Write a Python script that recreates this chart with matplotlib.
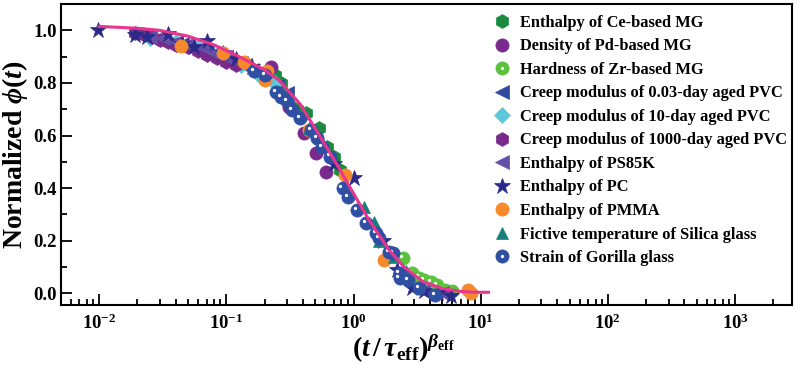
import numpy as np
import matplotlib
matplotlib.use("Agg")
from matplotlib import pyplot as plt
from matplotlib.transforms import ScaledTranslation

plt.rcParams['font.family'] = ['Liberation Serif', 'DejaVu Serif']
plt.rcParams['font.weight'] = 'bold'
plt.rcParams['axes.labelweight'] = 'bold'
plt.rcParams['mathtext.fontset'] = 'custom'
plt.rcParams['mathtext.rm'] = 'Liberation Serif:bold'
plt.rcParams['mathtext.it'] = 'Liberation Serif:italic:bold'
plt.rcParams['mathtext.bf'] = 'Liberation Serif:bold'

# master curve
fit_x = [0.01, 0.02, 0.03, 0.05, 0.08, 0.126, 0.2, 0.26, 0.38, 0.51, 0.7, 1.0,
         1.3, 1.9, 2.5, 3.5, 5.0, 7.0, 9.0, 11.5]
fit_y = [1.015, 1.008, 1.0, 0.978, 0.945, 0.90, 0.85, 0.81, 0.72, 0.62, 0.51, 0.38,
         0.285, 0.165, 0.10, 0.045, 0.018, 0.007, 0.004, 0.004]

ce_x = [0.24, 0.27, 0.31, 0.36, 0.42, 0.54, 0.62, 0.70, 0.78]
ce_y = [0.83, 0.80, 0.715, 0.70, 0.685, 0.63, 0.555, 0.52, 0.47]

pd_x = [0.225, 0.31, 0.41, 0.51, 0.61]
pd_y = [0.86, 0.71, 0.61, 0.535, 0.462]

zr_x = [2.44, 2.9, 3.3, 3.6, 4.1, 4.5, 5.2, 6.0]
zr_y = [0.133, 0.076, 0.06, 0.05, 0.044, 0.031, 0.013, 0.01]

pvc003_x = [0.022, 0.03, 0.045, 0.07, 0.10, 0.14, 0.19, 0.25, 0.30]
pvc003_y = [0.98, 0.97, 0.95, 0.92, 0.90, 0.87, 0.83, 0.79, 0.76]

pvc10_x = [0.025, 0.04, 0.06, 0.09, 0.13, 0.18, 0.24]
pvc10_y = [0.97, 0.955, 0.935, 0.905, 0.87, 0.83, 0.80]

pvc1000_x = [0.019, 0.022, 0.026, 0.03, 0.035, 0.04, 0.05, 0.06, 0.07, 0.085, 0.10, 0.12]
pvc1000_y = [0.99, 0.985, 0.975, 0.965, 0.955, 0.945, 0.935, 0.92, 0.905, 0.895, 0.88, 0.87]

ps_x = [0.025, 0.032, 0.04, 0.05, 0.065, 0.08, 0.10, 0.13, 0.16, 3.5, 5.0]
ps_y = [0.975, 0.97, 0.955, 0.95, 0.935, 0.915, 0.90, 0.875, 0.85, 0.01, 0.0]

pc_x = [0.0098, 0.019, 0.024, 0.0345, 0.045, 0.056, 0.071, 0.095, 0.12, 0.16,
        0.70, 1.0, 1.7, 2.2, 2.9, 3.6, 4.6, 5.8]
pc_y = [1.0, 0.981, 0.975, 0.987, 0.95, 0.937, 0.96, 0.915, 0.89, 0.86,
        0.49, 0.44, 0.20, 0.09, 0.02, 0.01, 0.0, -0.01]

pmma_x = [0.044, 0.095, 0.138, 0.20, 0.21, 0.45, 0.85, 1.75, 7.9, 8.4]
pmma_y = [0.94, 0.912, 0.88, 0.81, 0.845, 0.62, 0.45, 0.125, 0.013, 0.003]

si_x = [0.28, 0.45, 0.55, 1.2, 1.45, 1.6, 2.1, 2.6]
si_y = [0.77, 0.63, 0.59, 0.33, 0.27, 0.20, 0.14, 0.085]

gor_x = [0.166, 0.20, 0.246, 0.27, 0.30, 0.33, 0.38, 0.46, 0.52, 0.57, 0.65, 0.82,
         0.90, 1.07, 1.26, 1.5, 1.6, 1.9, 2.03, 2.3, 2.3, 2.7, 3.3, 4.4]
gor_y = [0.847, 0.83, 0.766, 0.747, 0.73, 0.696, 0.665, 0.62, 0.59, 0.557, 0.52, 0.40,
         0.366, 0.316, 0.266, 0.228, 0.209, 0.158, 0.152, 0.076, 0.058, 0.05, 0.02, -0.006]

fig = plt.figure(figsize=(8.0, 3.69), dpi=100)
ax = fig.add_axes([0.076, 0.173, 0.914, 0.816])

hl = ax.transData + ScaledTranslation(-1.5 / 72, 1.5 / 72, fig.dpi_scale_trans)

def plain(x, y, m, c, ms, label):
    h, = ax.plot(x, y, ls='none', marker=m, color=c, ms=ms, mec=c, mew=0.5, label=label)
    return h

def sphere(x, y, c, ms, label):
    h1, = ax.plot(x, y, ls='none', marker='o', color=c, ms=ms, mec=c, mew=0.5)
    h2, = ax.plot(x, y, ls='none', marker='o', color='white', ms=ms * 0.25, mew=0,
                  transform=hl)
    return (h1, h2)

handles = [
    plain(ce_x, ce_y, 'h', '#1b8a3e', 10, 'Enthalpy of Ce-based MG'),
    plain(pd_x, pd_y, 'o', '#7a2a8c', 9.5, 'Density of Pd-based MG'),
    sphere(zr_x, zr_y, '#5bc23b', 9.5, 'Hardness of Zr-based MG'),
    plain(pvc003_x, pvc003_y, '<', '#2f4a9e', 10, 'Creep modulus of 0.03-day aged PVC'),
    plain(pvc10_x, pvc10_y, 'D', '#5cc8dc', 8, 'Creep modulus of 10-day aged PVC'),
    plain(pvc1000_x, pvc1000_y, 'h', '#772a8a', 10, 'Creep modulus of 1000-day aged PVC'),
    plain(ps_x, ps_y, '<', '#6250a8', 10, 'Enthalpy of PS85K'),
    plain(pc_x, pc_y, '*', '#2b2a88', 12, 'Enthalpy of PC'),
    plain(pmma_x, pmma_y, 'o', '#f5892b', 9.5, 'Enthalpy of PMMA'),
    plain(si_x, si_y, '^', '#17807c', 9, 'Fictive temperature of Silica glass'),
    sphere(gor_x, gor_y, '#2f4fa3', 9.5, 'Strain of Gorilla glass'),
]
labels = ['Enthalpy of Ce-based MG', 'Density of Pd-based MG', 'Hardness of Zr-based MG',
          'Creep modulus of 0.03-day aged PVC', 'Creep modulus of 10-day aged PVC',
          'Creep modulus of 1000-day aged PVC', 'Enthalpy of PS85K', 'Enthalpy of PC',
          'Enthalpy of PMMA', 'Fictive temperature of Silica glass', 'Strain of Gorilla glass']

ax.plot(fit_x, fit_y, color='#e8368f', lw=2.2, zorder=5)

ax.set_xscale('log')
ax.set_xlim(0.005, 2800)
ax.set_ylim(-0.045, 1.1)
ax.set_yticks([0.0, 0.2, 0.4, 0.6, 0.8, 1.0])
ax.set_yticks(np.arange(0.1, 1.0, 0.2), minor=True)
ax.yaxis.set_major_formatter(matplotlib.ticker.FormatStrFormatter('%.1f'))
ax.tick_params(which='both', direction='in', top=False, right=False, width=1.3,
               labelsize=13.5)
ax.tick_params(which='major', length=8)
ax.tick_params(which='minor', length=4.5)
ax.tick_params(axis='x', pad=6)
ax.tick_params(axis='y', pad=3)
for s in ax.spines.values():
    s.set_linewidth(1.5)

ax.set_ylabel(r'Normalized $\phi(t)$', fontsize=20, labelpad=2)
ax.set_xlabel(r'$(t\,/\,\tau_{\rm eff})^{\beta_{\rm eff}}$', fontsize=20, labelpad=0)
ax.xaxis.label.set_x(0.468)

ax.legend(handles, labels, loc='upper right', bbox_to_anchor=(1.008, 1.0), frameon=False,
          fontsize=11.8, handlelength=1.0, handletextpad=0.6, labelspacing=0.46,
          borderaxespad=0.25, numpoints=1)

fig.savefig('out.png', dpi=100)
